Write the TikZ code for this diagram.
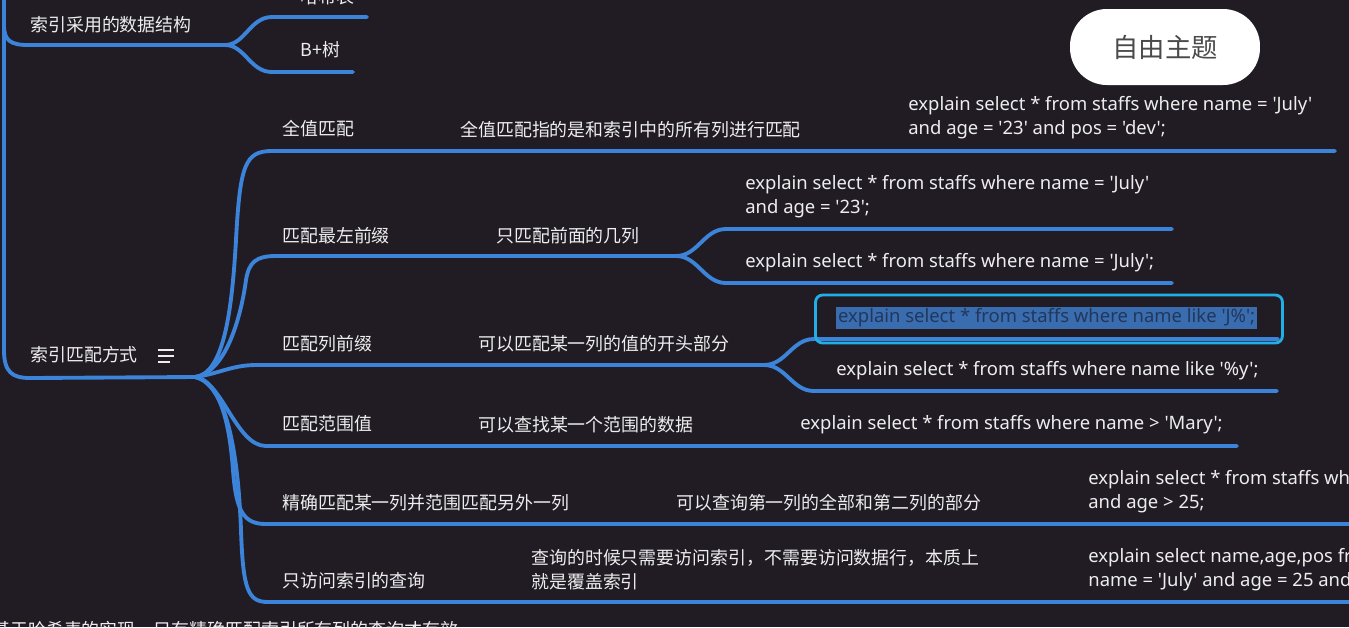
\documentclass[tikz,border=0pt]{standalone}
\usepackage{fontspec}
\setmainfont{Noto Sans CJK SC}
\newfontfamily\sqlfont{Noto Sans}
\usepackage{xcolor}
\usepackage{tikz}
\usetikzlibrary{positioning}

\definecolor{bgdark}{HTML}{211C24}
\definecolor{linkblue}{HTML}{3C84DA}
\definecolor{inkwhite}{HTML}{EDEDED}
\definecolor{boxcyan}{HTML}{22AEE6}
\definecolor{markblue}{HTML}{3A6DB0}
\definecolor{markink}{HTML}{22375A}
\definecolor{pillink}{HTML}{4A4A4A}

\begin{document}
\begin{tikzpicture}[x=0.02cm, y=-0.02cm,
  link/.style={linkblue, line width=2.2pt, line cap=round},
  topic/.style={inkwhite, inner sep=0pt, anchor=west, font=\fontsize{10.2}{13.6}\selectfont},
  query/.style={topic, align=left, font=\sqlfont\fontsize{10.5}{13.6}\selectfont}]
\useasboundingbox (0,0) rectangle (1349,627);
\clip (0,0) rectangle (1349,627);
\fill[bgdark] (0,0) rectangle (1349,627);

% Hubs and line ends
\coordinate (rootA) at (4,-6);
\coordinate (hubA) at (225,45);
\coordinate (hashEnd) at (367,17);
\coordinate (btreeEnd) at (353,72);
\coordinate (rootB) at (4,-6);
\coordinate (hubB) at (195,377);
\coordinate (fullEnd) at (1335,151);
\coordinate (leftFork) at (676,256);
\coordinate (leftEndA) at (1172,229);
\coordinate (leftEndB) at (1172,283);
\coordinate (prefFork) at (764,365);
\coordinate (prefEndA) at (1278,339);
\coordinate (prefEndB) at (1277,391);
\coordinate (rangeEnd) at (1237,446);
\coordinate (exactEnd) at (1360,524);
\coordinate (coverEnd) at (1360,602);

% Upper branch: data structures
\draw[link] (rootA) -- (4,25) .. controls (4,40) and (10,45) .. (28,45) -- (hubA);
\draw[link] (hubA) .. controls (245,45) and (250,17) .. (272,17) -- (hashEnd);
\draw[link] (hubA) .. controls (245,45) and (250,72) .. (272,72) -- (btreeEnd);

% Lower branch: match types
\draw[link] (rootB) -- (4,350) .. controls (4,372) and (12,378) .. (30,378) -- (hubB);
\draw[link] (hubB) .. controls (224,374) and (232,310) .. (236,240)
  .. controls (240,165) and (245,151) .. (272,151) -- (fullEnd);
\draw[link] (hubB) .. controls (228,372) and (242,310) .. (246,280)
  .. controls (249,262) and (256,256) .. (276,256) -- (leftFork);
\draw[link] (leftFork) .. controls (698,256) and (704,229) .. (726,229) -- (leftEndA);
\draw[link] (leftFork) .. controls (698,256) and (704,283) .. (726,283) -- (leftEndB);
\draw[link] (hubB) .. controls (218,374) and (232,365) .. (256,365) -- (prefFork);
\draw[link] (prefFork) .. controls (786,365) and (792,339) .. (814,339) -- (prefEndA);
\draw[link] (prefFork) .. controls (786,365) and (792,391) .. (814,391) -- (prefEndB);
\draw[link] (hubB) .. controls (222,380) and (236,446) .. (266,446) -- (rangeEnd);
\draw[link] (hubB) .. controls (222,382) and (230,430) .. (233,470)
  .. controls (236,512) and (244,524) .. (266,524) -- (exactEnd);
\draw[link] (hubB) .. controls (226,384) and (238,450) .. (241,530)
  .. controls (243,590) and (248,602) .. (268,602) -- (coverEnd);

% Texts
\node[topic] (t-struct) at (30,25) {索引采用的数据结构};
\node[topic] (t-hash) at (300,-3) {哈希表};
\node[topic] (t-btree) at (300,50) {B+树};
\node[topic] (t-match) at (30,355) {索引匹配方式};
\foreach \yy/\len in {350/16,356/16,362/12}
  \draw[inkwhite, line width=1.1pt] (158,\yy) -- ++(\len,0);

\node[topic] (t-full) at (282,129) {全值匹配};
\node[topic] (d-full) at (460,130) {全值匹配指的是和索引中的所有列进行匹配};
\node[query] (q-full) at (908,118) {explain select * from staffs where name = 'July'\\and age = '23' and pos = 'dev';};

\node[topic] (t-left) at (282,236) {匹配最左前缀};
\node[topic] (d-left) at (496,236) {只匹配前面的几列};
\node[query] (q-leftA) at (745,197) {explain select * from staffs where name = 'July'\\and age = '23';};
\node[query] (q-leftB) at (745,263) {explain select * from staffs where name = 'July';};

\node[topic] (t-pref) at (282,344) {匹配列前缀};
\node[topic] (d-pref) at (478,344) {可以匹配某一列的值的开头部分};
\node (hibox) [draw=boxcyan, line width=1.6pt, rounded corners=4pt,
  minimum width=9.34cm, minimum height=0.96cm] at (1049,319) {};
\node[query, fill=markblue, text=markink, inner sep=1pt] (q-prefA) at (836,318) {explain select * from staffs where name like 'J\%';};
\node[query] (q-prefB) at (836,371) {explain select * from staffs where name like '\%y';};

\node[topic] (t-range) at (282,424) {匹配范围值};
\node[topic] (d-range) at (478,425) {可以查找某一个范围的数据};
\node[query] (q-range) at (800,425) {explain select * from staffs where name > 'Mary';};

\node[topic] (t-exact) at (282,503) {精确匹配某一列并范围匹配另外一列};
\node[topic] (d-exact) at (676,503) {可以查询第一列的全部和第二列的部分};
\node[query] (q-exact) at (1088,492) {explain select * from staffs where name = 'July'\\and age > 25;};

\node[topic] (t-cover) at (282,581) {只访问索引的查询};
\node[query, font=\fontsize{10.2}{13.6}\selectfont] (d-cover) at (531,570) {查询的时候只需要访问索引，不需要访问数据行，本质上\\就是覆盖索引};
\node[query] (q-cover) at (1088,570) {explain select name,age,pos from staffs where\\name = 'July' and age = 25 and pos = 'dev';};

\node[topic] (t-note) at (-8,630) {基于哈希表的实现，只有精确匹配索引所有列的查询才有效};

% Free topic
\node (theme) [fill=white, rounded corners=21pt, minimum width=3.8cm, minimum height=1.52cm,
  text=pillink, font=\fontsize{15}{18}\selectfont] at (1165,47) {自由主题};
\end{tikzpicture}
\end{document}
